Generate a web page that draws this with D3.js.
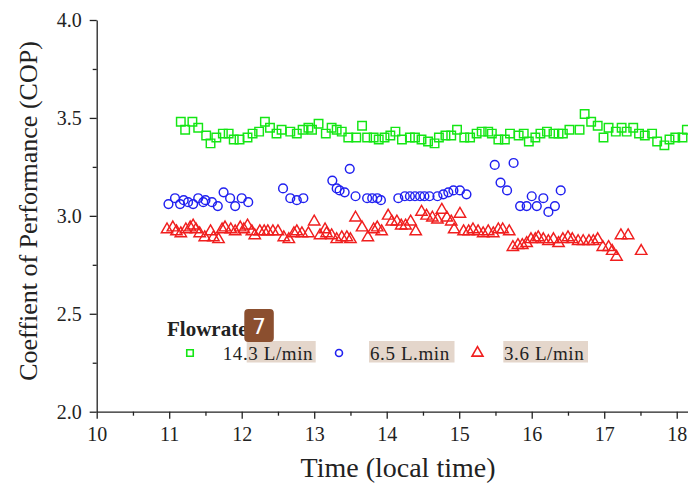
<!DOCTYPE html>
<html>
<head>
<meta charset="utf-8">
<script src="https://cdn.jsdelivr.net/npm/d3@7"></script>
<style>
  body { margin: 0; background: #fff; }
  svg { display: block; font-family: "Liberation Serif", "Times New Roman", serif; }
</style>
</head>
<body>
<svg id="chart" width="688" height="486"></svg>
<script>
// 14.3 L/min (green squares)
const flow143Time = [11.16, 11.22, 11.32, 11.40, 11.51, 11.57, 11.65, 11.74, 11.82, 11.89, 11.97, 12.08, 12.15, 12.24, 12.32, 12.39, 12.48, 12.55, 12.67, 12.76,
	12.84, 12.92, 12.97, 13.06, 13.16, 13.24, 13.31, 13.38, 13.47, 13.58, 13.66, 13.73, 13.82, 13.89, 13.97, 14.05, 14.12, 14.21, 14.32, 14.39,
	14.48, 14.57, 14.66, 14.72, 14.81, 14.89, 14.97, 15.07, 15.15, 15.24, 15.31, 15.40, 15.45, 15.54, 15.63, 15.70, 15.82, 15.89, 15.96, 16.05,
	16.12, 16.21, 16.30, 16.37, 16.43, 16.52, 16.66, 16.73, 16.82, 16.91, 16.99, 17.06, 17.16, 17.24, 17.31, 17.40, 17.48, 17.56, 17.66, 17.73,
	17.83, 17.90, 17.98, 18.08, 18.14];
const flow143Cop = [3.48, 3.44, 3.48, 3.45, 3.41, 3.37, 3.40, 3.42, 3.42, 3.39, 3.39, 3.40, 3.42, 3.43, 3.48, 3.45, 3.42, 3.44, 3.43, 3.42,
	3.44, 3.45, 3.44, 3.47, 3.42, 3.45, 3.44, 3.43, 3.40, 3.40, 3.46, 3.40, 3.40, 3.39, 3.40, 3.41, 3.43, 3.39, 3.40, 3.40,
	3.39, 3.38, 3.37, 3.40, 3.41, 3.41, 3.44, 3.40, 3.40, 3.42, 3.43, 3.43, 3.42, 3.39, 3.39, 3.42, 3.41, 3.42, 3.38, 3.40,
	3.42, 3.43, 3.42, 3.42, 3.42, 3.44, 3.44, 3.52, 3.48, 3.46, 3.40, 3.45, 3.43, 3.45, 3.43, 3.45, 3.42, 3.41, 3.42, 3.38,
	3.36, 3.39, 3.40, 3.40, 3.44];

// 6.5 L/min (blue circles)
const flow65Time = [10.99, 11.08, 11.15, 11.20, 11.26, 11.33, 11.40, 11.47, 11.50, 11.59, 11.67, 11.75, 11.84, 11.91, 12.00, 12.09,
	12.57, 12.67, 12.76, 12.85, 13.25, 13.31, 13.35, 13.42, 13.49, 13.57, 13.73, 13.80, 13.87, 13.92,
	14.16, 14.25, 14.32, 14.39, 14.46, 14.52, 14.59, 14.70, 14.78, 14.85, 14.92, 15.01, 15.10,
	15.49, 15.57, 15.66, 15.75, 15.84, 15.93, 16.00, 16.07, 16.16, 16.23, 16.32, 16.40];
const flow65Cop = [3.06, 3.09, 3.06, 3.08, 3.07, 3.06, 3.09, 3.07, 3.08, 3.07, 3.05, 3.12, 3.09, 3.05, 3.09, 3.07,
	3.14, 3.09, 3.08, 3.09, 3.18, 3.14, 3.13, 3.12, 3.24, 3.10, 3.09, 3.09, 3.09, 3.08,
	3.09, 3.10, 3.10, 3.10, 3.10, 3.10, 3.10, 3.10, 3.11, 3.12, 3.13, 3.13, 3.11,
	3.26, 3.17, 3.13, 3.27, 3.05, 3.05, 3.10, 3.05, 3.09, 3.02, 3.05, 3.13];

// 3.6 L/min (red triangles)
const flow36Time = [10.97, 11.05, 11.10, 11.16, 11.23, 11.29, 11.33, 11.37, 11.42, 11.49, 11.57, 11.61, 11.68, 11.73, 11.77, 11.85, 11.91, 11.98, 12.03, 12.08,
	12.14, 12.18, 12.25, 12.31, 12.36, 12.43, 12.50, 12.58, 12.65, 12.72, 12.76, 12.83, 12.92, 13.00, 13.08, 13.15, 13.17, 13.24, 13.31, 13.38,
	13.45, 13.50, 13.57, 13.66, 13.74, 13.82, 13.87, 13.93, 14.02, 14.07, 14.14, 14.20, 14.26, 14.33, 14.40, 14.48, 14.55, 14.63, 14.70, 14.76,
	14.83, 14.89, 14.93, 15.01, 15.06, 15.13, 15.19, 15.26, 15.33, 15.40, 15.47, 15.54, 15.60, 15.69, 15.74, 15.81, 15.87, 15.93, 15.99, 16.05,
	16.09, 16.16, 16.23, 16.30, 16.37, 16.43, 16.50, 16.56, 16.64, 16.71, 16.79, 16.85, 16.91, 16.98, 17.06, 17.11, 17.17, 17.23, 17.33, 17.51];
const flow36Cop = [2.93, 2.94, 2.92, 2.91, 2.93, 2.94, 2.95, 2.93, 2.91, 2.89, 2.92, 2.89, 2.88, 2.93, 2.94, 2.93, 2.92, 2.94, 2.93, 2.95,
	2.92, 2.90, 2.92, 2.92, 2.92, 2.92, 2.92, 2.89, 2.88, 2.91, 2.92, 2.91, 2.91, 2.97, 2.90, 2.93, 2.91, 2.90, 2.88, 2.89,
	2.89, 2.88, 2.99, 2.94, 2.89, 2.93, 2.94, 2.92, 3.00, 2.97, 2.97, 2.95, 2.95, 2.97, 2.92, 3.02, 3.00, 2.99, 2.98, 3.03,
	2.99, 2.97, 2.93, 3.01, 2.92, 2.92, 2.93, 2.92, 2.91, 2.92, 2.91, 2.93, 2.93, 2.92, 2.84, 2.85, 2.85, 2.86, 2.88, 2.88,
	2.89, 2.88, 2.87, 2.88, 2.86, 2.88, 2.89, 2.88, 2.87, 2.87, 2.87, 2.87, 2.88, 2.84, 2.84, 2.82, 2.79, 2.90, 2.90, 2.82];

const xMajorTicks = [10, 11, 12, 13, 14, 15, 16, 17, 18];
const xMinorTicks = [10.5, 11.5, 12.5, 13.5, 14.5, 15.5, 16.5, 17.5];
const yMajorTicks = [2.0, 2.5, 3.0, 3.5, 4.0];
const yMinorTicks = [2.25, 2.75, 3.25, 3.75];

const seriesNames = ["14.3 L/min", "6.5 L.min", "3.6 L/min"];
const seriesColors = ["#14e614", "#2020f0", "#f01e1e"];

const svg = d3.select("#chart");
const ink = "#222";

const x = d3.scaleLinear().domain([10, 18.15]).range([96.7, 687.6]);
const y = d3.scaleLinear().domain([2, 4]).range([411.7, 20]);

// axes
svg.append("g")
	.attr("transform", `translate(0,${y(2)})`)
	.call(d3.axisBottom(x).tickValues(xMajorTicks).tickFormat(d3.format("d")).tickSize(7).tickSizeOuter(0).tickPadding(8.5));
svg.append("g")
	.attr("transform", `translate(0,${y(2)})`)
	.call(d3.axisBottom(x).tickValues(xMinorTicks).tickFormat("").tickSize(4).tickSizeOuter(0))
	.select(".domain").remove();

svg.append("g")
	.attr("transform", `translate(${x(10)},0)`)
	.call(d3.axisLeft(y).tickValues(yMajorTicks).tickFormat(d3.format(".1f")).tickSize(7).tickSizeOuter(0).tickPadding(8));
svg.append("g")
	.attr("transform", `translate(${x(10)},0)`)
	.call(d3.axisLeft(y).tickValues(yMinorTicks).tickFormat("").tickSize(4).tickSizeOuter(0))
	.select(".domain").remove();

svg.selectAll(".domain, .tick line").attr("stroke", ink).attr("stroke-width", 1.3);
svg.selectAll(".tick text")
	.attr("fill", ink)
	.style("font-family", "Liberation Serif")
	.style("font-size", "20px");

// axis titles
svg.append("text")
	.attr("x", 398)
	.attr("y", 476.7)
	.attr("text-anchor", "middle")
	.attr("fill", ink)
	.style("font-size", "28px")
	.text("Time (local time)");

svg.append("text")
	.attr("transform", "translate(37,211) rotate(-90)")
	.attr("text-anchor", "middle")
	.attr("fill", ink)
	.style("font-size", "26px")
	.text("Coeffient of Performance (COP)");

// markers
const shapes = [d3.symbolSquare, d3.symbolCircle, d3.symbolTriangle];
const sizes = [72, 60, 56];
const series = [
	[flow143Time, flow143Cop],
	[flow65Time, flow65Cop],
	[flow36Time, flow36Cop]
];

series.forEach((s, i) => {
	const pts = s[0].map((t, j) => ({ t: t, c: s[1][j] }));
	svg.append("g")
		.selectAll("path")
		.data(pts)
		.enter()
		.append("path")
		.attr("d", d3.symbol().type(shapes[i]).size(sizes[i]))
		.attr("transform", d => `translate(${x(d.t)},${y(d.c)})`)
		.attr("fill", "none")
		.attr("stroke", seriesColors[i])
		.attr("stroke-width", 1.45);
});

// legend
const legend = svg.append("g");

// highlight boxes behind the legend labels
const boxes = [[246.7, 315.7], [369, 454.5], [503.3, 588]];
boxes.forEach(b => {
	legend.append("rect")
		.attr("x", b[0]).attr("y", 341)
		.attr("width", b[1] - b[0]).attr("height", 21.5)
		.attr("fill", "#e4d6cb");
});

legend.append("text")
	.attr("x", 167)
	.attr("y", 336)
	.attr("fill", ink)
	.style("font-size", "21px")
	.style("font-weight", "bold")
	.text("Flowrates");

const legendMarkX = [190, 339, 477.5];
const legendTextX = [222.7, 370, 504];
const legendSizes = [42, 38, 52];
seriesNames.forEach((name, i) => {
	legend.append("path")
		.attr("d", d3.symbol().type(shapes[i]).size(legendSizes[i]))
		.attr("transform", `translate(${legendMarkX[i]},353)`)
		.attr("fill", "none")
		.attr("stroke", seriesColors[i])
		.attr("stroke-width", 1.6);
	legend.append("text")
		.attr("x", legendTextX[i])
		.attr("y", 360)
		.attr("fill", ink)
		.style("font-size", "19px")
		.style("letter-spacing", "0.6px")
		.text(name);
});

// numbered badge over the legend
legend.append("rect")
	.attr("x", 244.3).attr("y", 309)
	.attr("width", 29.5).attr("height", 33)
	.attr("rx", 4)
	.attr("fill", "#8b4f2f");
legend.append("text")
	.attr("x", 259)
	.attr("y", 333.5)
	.attr("text-anchor", "middle")
	.attr("fill", "#fff")
	.style("font-family", "DejaVu Sans, sans-serif")
	.style("font-size", "22px")
	.text("7");
</script>
</body>
</html>
